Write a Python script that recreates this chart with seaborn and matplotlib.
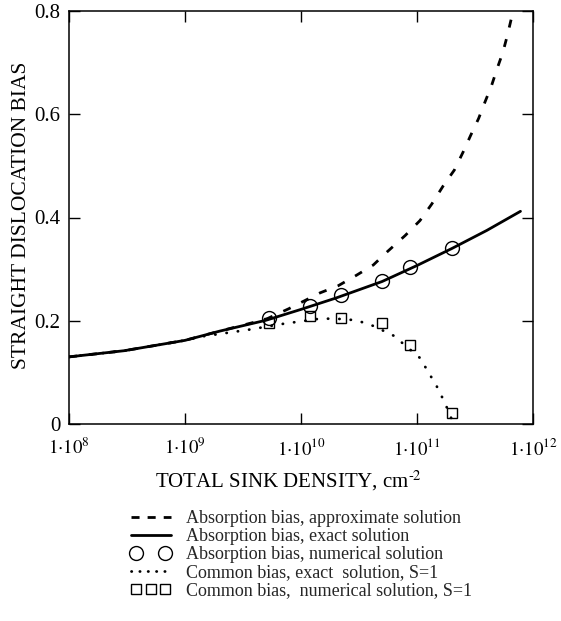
import numpy as np
import pandas as pd
import matplotlib
matplotlib.use("Agg")
import matplotlib.pyplot as plt
import seaborn as sns
from matplotlib.legend_handler import HandlerLine2D
from matplotlib.lines import Line2D
from matplotlib.ticker import FixedLocator, NullLocator

# ---------------- data ----------------
approx_x = [1e8, 3e8, 1e9, 2e9, 5e9, 7.8e9, 1.46e10, 2.1e10, 3e10, 4.2e10, 5.5e10,
            7.9e10, 1.06e11, 1.34e11, 1.69e11, 2.1e11, 2.5e11, 2.9e11, 3.4e11,
            3.86e11, 4.4e11, 4.9e11, 5.5e11, 6.0e11, 6.5e11, 6.8e11]
approx_y = [0.130, 0.142, 0.162, 0.180, 0.203, 0.223, 0.254, 0.268, 0.288, 0.308, 0.333,
            0.365, 0.394, 0.426, 0.462, 0.492, 0.527, 0.559, 0.592,
            0.624, 0.656, 0.688, 0.720, 0.752, 0.785, 0.800]

exact_x = [1e8, 3e8, 1e9, 2e9, 5e9, 1e10, 2e10, 5e10, 1e11, 2e11, 4e11, 7.8e11]
exact_y = [0.130, 0.142, 0.162, 0.180, 0.201, 0.222, 0.244, 0.276, 0.307, 0.340, 0.375, 0.412]

num_x = [5.3e9, 1.2e10, 2.2e10, 5e10, 8.7e10, 2e11]
abs_num_y = [0.205, 0.228, 0.249, 0.277, 0.305, 0.341]
com_num_y = [0.195, 0.209, 0.206, 0.195, 0.153, 0.021]

common_x = [1e8, 3e8, 1e9, 1.35e9, 3.4e9, 7e9, 1.45e10, 2e10, 3e10, 4.2e10, 6.3e10,
            1.06e11, 1.48e11, 1.74e11, 2e11]
common_y = [0.130, 0.142, 0.162, 0.169, 0.182, 0.194, 0.204, 0.204, 0.201, 0.190, 0.171,
            0.128, 0.073, 0.041, 0.008]

x_ticks = [1e8, 1e9, 1e10, 1e11, 1e12]
x_ticklabels = [r"$1{\cdot}10^{8}$", r"$1{\cdot}10^{9}$", r"$1{\cdot}10^{10}$",
                r"$1{\cdot}10^{11}$", r"$1{\cdot}10^{12}$"]
y_ticks = [0, 0.2, 0.4, 0.6, 0.8]
y_ticklabels = ["0", "0.2", "0.4", "0.6", "0.8"]

legend_labels = ["Absorption bias, approximate solution",
                 "Absorption bias, exact solution",
                 "Absorption bias, numerical solution",
                 "Common bias, exact  solution, S=1",
                 "Common bias,  numerical solution, S=1"]

# ---------------- style ----------------
sns.set_theme(style="ticks")
plt.rcParams["font.family"] = ["Liberation Serif", "DejaVu Serif"]
plt.rcParams["mathtext.fontset"] = "stix"

W, H = 561, 621
fig = plt.figure(figsize=(W / 100, H / 100), dpi=100)
fig.patch.set_facecolor("white")
ax = fig.add_axes([69 / W, 1 - 424 / H, (533 - 69) / W, (424 - 11) / H])
ax.set_xscale("log")

lw = 2.0
sns.lineplot(x=approx_x, y=approx_y, ax=ax, color="black", lw=lw,
             linestyle=(0, (2.9, 4.3)))
sns.lineplot(x=exact_x, y=exact_y, ax=ax, color="black", lw=lw)
sns.lineplot(x=num_x, y=abs_num_y, ax=ax, color="black", marker="o",
             linestyle="none", markerfacecolor="none", markeredgecolor="black",
             markersize=10, markeredgewidth=1.0)
sns.lineplot(x=common_x, y=common_y, ax=ax, color="black", lw=lw,
             linestyle=(0, (0.1, 4.0)), dash_capstyle="round")
sns.lineplot(x=num_x, y=com_num_y, ax=ax, color="black", marker="s",
             linestyle="none", markerfacecolor="none", markeredgecolor="black",
             markersize=7, markeredgewidth=1.0)

ax.set_xlim(1e8, 1e12)
ax.set_ylim(0, 0.8)
ax.xaxis.set_major_locator(FixedLocator(x_ticks))
ax.xaxis.set_minor_locator(NullLocator())
ax.set_xticks(x_ticks)
ax.set_xticklabels(x_ticklabels, fontsize=13.5)
ax.set_yticks(y_ticks)
ax.set_yticklabels(y_ticklabels, fontsize=15)
ax.tick_params(axis="both", which="major", direction="in", length=8, width=1.0,
               top=True, right=True, color="black", labelcolor="black")
ax.tick_params(axis="x", pad=10)
ax.tick_params(axis="y", pad=6)
for s in ax.spines.values():
    s.set_visible(True)
    s.set_linewidth(1.1)
    s.set_color("black")

ax.set_xlabel(r"TOTAL SINK DENSITY, cm$^{\text{-}2}$", fontsize=15, color="black")
ax.xaxis.set_label_coords((288 - 69) / 464, -(469 - 424) / 413)
ax.set_ylabel("STRAIGHT DISLOCATION BIAS", fontsize=15.5, color="black")
ax.yaxis.label.set_va("center")
ax.yaxis.set_label_coords((22 - 69) / 464, 1 - (215 - 11) / 413)

# legend handles (proxies styled like the plotted series)
h_approx = Line2D([], [], color="black", lw=lw, linestyle=(0, (2.9, 2.9)))
h_exact = Line2D([], [], color="black", lw=lw)
h_absnum = Line2D([], [], color="black", marker="o", linestyle="none",
                  markerfacecolor="none", markeredgecolor="black",
                  markersize=10, markeredgewidth=1.0)
h_common = Line2D([], [], color="black", lw=lw, linestyle=(0, (0.1, 2.9)),
                  dash_capstyle="round")
h_comnum = Line2D([], [], color="black", marker="s", linestyle="none",
                  markerfacecolor="none", markeredgecolor="black",
                  markersize=7, markeredgewidth=1.0)
handles = [h_approx, h_exact, h_absnum, h_common, h_comnum]
handler_map = {h_absnum: HandlerLine2D(numpoints=2),
               h_comnum: HandlerLine2D(numpoints=3)}
fig.legend(handles, legend_labels, loc="upper left",
           bbox_to_anchor=(131 / W, 1 - 510 / H), frameon=False, fontsize=13,
           handlelength=2.2, handletextpad=0.85, labelspacing=0.06,
           borderaxespad=0, borderpad=0, handler_map=handler_map)

fig.savefig("out.png", dpi=100, facecolor="white")
